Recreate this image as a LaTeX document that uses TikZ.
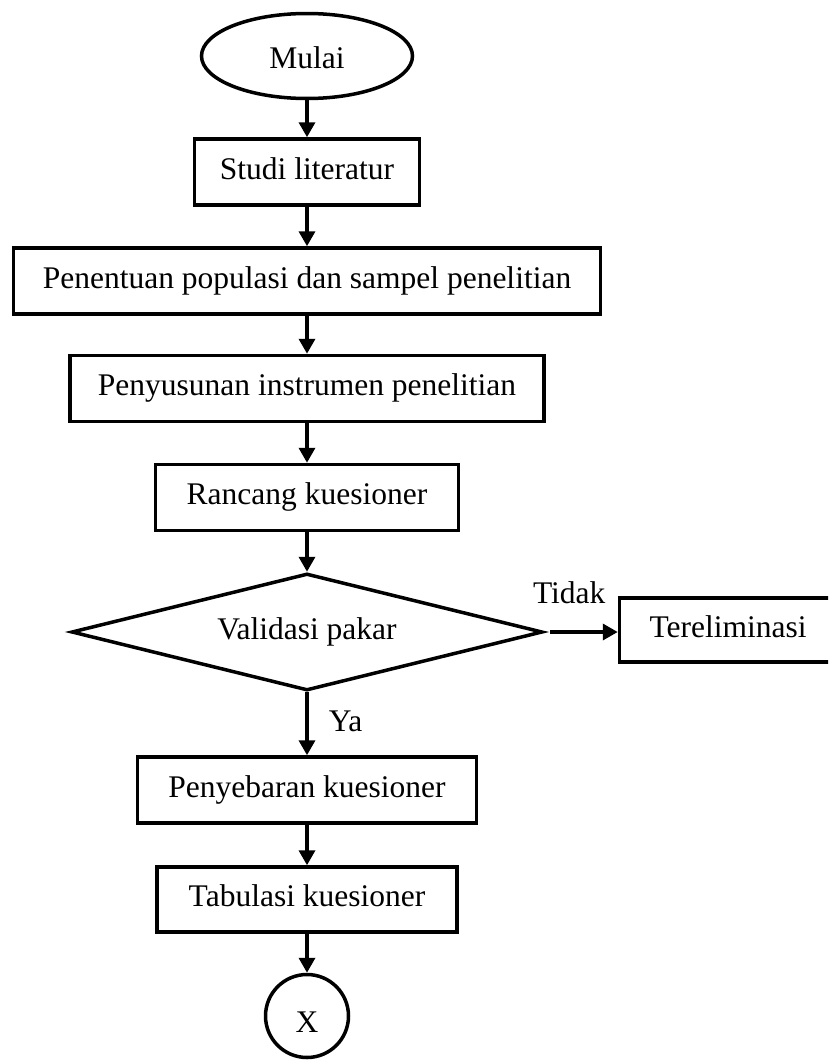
\documentclass[tikz,border=0pt]{standalone}
\usepackage{fontspec}
\setmainfont{Liberation Serif}
\usetikzlibrary{shapes.geometric, arrows.meta}

\begin{document}
\begin{tikzpicture}[x=1pt, y=-1pt,
    font=\fontsize{31.5}{36}\selectfont,
    box/.style={draw, line width=3.5pt, inner sep=0pt, minimum height=66pt,
        text height=21.5pt, text depth=6.8pt},
    flow/.style={line width=3.5pt, -{Triangle[length=15pt, width=16pt]}},
    lbl/.style={inner sep=0pt, text height=21.5pt, text depth=6.8pt}]
    \useasboundingbox (0, 0) rectangle (828, 1063);
    \clip (0, 0) rectangle (828, 1063);

    \node[draw, ellipse, line width=3.5pt, inner sep=0pt, minimum width=211pt,
        minimum height=85pt, text height=24pt, text depth=0pt] (mulai) at (307, 56) {Mulai};
    \node[box, minimum width=225pt] (studi) at (307, 172) {Studi literatur};
    \node[box, minimum width=587pt] (populasi) at (307, 281) {Penentuan populasi dan sampel penelitian};
    \node[box, minimum width=474pt] (instrumen) at (307, 388.5) {Penyusunan instrumen penelitian};
    \node[box, minimum width=303pt] (rancang) at (307, 497.5) {Rancang kuesioner};
    \node[draw, diamond, line width=3.5pt, inner sep=0pt, aspect=4, minimum width=471pt,
        minimum height=117pt, text height=21.5pt, text depth=6.8pt] (validasi) at (307, 632) {Validasi pakar};
    \node[box, minimum width=217pt, minimum height=64pt] (eliminasi) at (728, 630) {Tereliminasi};
    \node[box, minimum width=339pt] (sebar) at (307, 790) {Penyebaran kuesioner};
    \node[box, minimum width=300pt, minimum height=65pt] (tabulasi) at (307, 899.5) {Tabulasi kuesioner};
    \node[draw, circle, line width=3.5pt, inner sep=0pt, minimum size=83pt,
        text height=32pt, text depth=0pt] (konektor) at (307, 1016) {X};

    \draw[flow] (mulai) -- (studi);
    \draw[flow] (studi) -- (populasi);
    \draw[flow] (populasi) -- (instrumen);
    \draw[flow] (instrumen) -- (rancang);
    \draw[flow] (rancang) -- (validasi);
    \draw[flow, shorten <=6pt] (validasi.east) -- node[lbl, above=20pt, pos=0.34] {Tidak}
        (validasi.east -| eliminasi.west);
    \draw[flow] (validasi) -- node[lbl, right=20pt] {Ya} (sebar);
    \draw[flow] (sebar) -- (tabulasi);
    \draw[flow] (tabulasi) -- (konektor);
\end{tikzpicture}
\end{document}
